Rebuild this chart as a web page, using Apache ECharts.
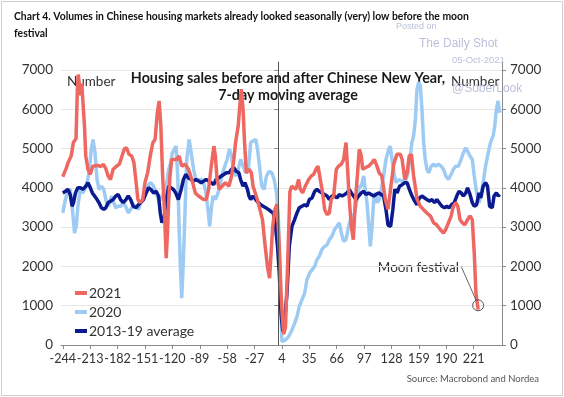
<!DOCTYPE html>
<html>
<head>
<meta charset="utf-8">
<script src="https://cdn.jsdelivr.net/npm/echarts@6/dist/echarts.min.js"></script>
<style>
  html, body { margin: 0; padding: 0; background: #fff; }
  #chart { width: 564px; height: 397px; }
</style>
</head>
<body>
<div id="chart"></div>
<script>
// days relative to Chinese New Year
const xTicks = [-244, -213, -182, -151, -120, -89, -58, -27, 4, 35, 66, 97, 128, 159, 190, 221];

const sales2021 = [
  [-244, 4280], [-240, 4500], [-238, 4640], [-234.5, 4810], [-232, 5150], [-229, 5250],
  [-227.5, 6500], [-226.5, 6880], [-225, 6600], [-224, 6350], [-222.5, 6650], [-221, 6700],
  [-219.5, 5600], [-218, 4810], [-215.5, 4470], [-213, 4340], [-210, 4550], [-207, 4560],
  [-204, 4570], [-201, 4540], [-198, 4600], [-195, 4470], [-192.7, 4300], [-190, 4210],
  [-187, 4470], [-183, 4550], [-180, 4600], [-177.5, 4770], [-174.5, 4980], [-172, 5020],
  [-169, 4850], [-166, 4810], [-163.5, 4640], [-161, 4130], [-159, 3700], [-156.5, 3620],
  [-153.5, 3700], [-151, 4130], [-148, 4380], [-145, 4810], [-142, 5150], [-139.5, 5230],
  [-137, 5910], [-135, 6210], [-133, 5570], [-131, 4300], [-129, 3450], [-127, 2210],
  [-125.5, 2850], [-124.6, 3450], [-122.7, 4300], [-120.8, 4720], [-119, 4770], [-115, 4720],
  [-112.4, 4810], [-109.4, 4550], [-105.6, 4600], [-101.7, 4470], [-98, 4210], [-94, 3870],
  [-90.3, 3790], [-84.6, 3700], [-81.6, 3700], [-79, 3960], [-76, 4550], [-73, 5060],
  [-71.3, 4810], [-69.4, 4210], [-66.8, 3960], [-63.7, 4040], [-60, 4130], [-56, 4040],
  [-53, 4300], [-50.4, 4720], [-48.5, 5150], [-45.5, 5570], [-44, 6000], [-42, 6510],
  [-40, 6000], [-38.3, 5150], [-36.3, 4380], [-33.3, 4470], [-30.6, 4380], [-28.7, 4040],
  [-26.5, 4040], [-23.8, 3700], [-21, 3450], [-18, 3190], [-15.4, 2600], [-12.4, 2000],
  [-10, 1700], [-6.5, 3000], [-4, 3450], [-1.5, 3580], [1, 2500], [3, 1300], [4.5, 700],
  [6, 280], [8, 450], [10.5, 2100], [13, 3900], [15, 4040], [17, 4040], [19.8, 3960],
  [22.9, 4210], [24.8, 3960], [27.4, 3870], [30.4, 4040], [34.2, 4210], [37.2, 4300],
  [39.8, 4340], [42.5, 4470], [44.8, 4550], [47.4, 4210], [50, 3870], [52.3, 3450],
  [55, 3320], [57.6, 3360], [59.8, 3700], [62.5, 3790], [65.5, 4470], [68.2, 4550],
  [71.2, 4600], [73.8, 4720], [76.5, 5150], [78.3, 4470], [80.2, 3700], [82.5, 3020],
  [84.8, 2680], [87, 3620], [89.3, 4300], [91.5, 4980], [93.8, 4810], [95.3, 4470],
  [98.3, 4510], [102, 4550], [106, 4640], [108.5, 4720], [111.5, 4550], [114, 4380],
  [117, 4300], [121, 3700], [124, 3450], [126, 3450], [130.5, 4600], [134, 4850],
  [138, 4850], [140, 4720], [143, 4210], [145.6, 4380], [148, 4810], [150.5, 4850],
  [153, 4300], [157, 3700], [160.6, 3530], [164, 3450], [168, 3360], [172, 3280],
  [175.6, 3110], [179, 3060], [183, 2940], [186.8, 2850], [189.4, 2940], [192.4, 3110],
  [195.4, 3280], [198, 3530], [200.7, 3620], [203, 3530], [205.5, 3190], [208, 3110],
  [211, 3060], [214, 3190], [216.8, 3280], [219.4, 3190], [221.6, 2340], [223.5, 1320],
  [226, 900]
];

const sales2020 = [
  [-244, 3360], [-241, 3700], [-238.3, 3910], [-235.6, 3960], [-233.4, 3530], [-230.7, 2850],
  [-228.8, 3020], [-226.9, 3530], [-224.2, 3960], [-221.2, 3870], [-217.4, 4040], [-214.3, 4380],
  [-211.7, 4980], [-209.8, 5230], [-207.5, 4890], [-205.2, 4210], [-203, 3960], [-200.3, 4040],
  [-197.6, 3960], [-195.3, 3700], [-192.7, 3530], [-190.8, 3620], [-188.9, 3790], [-186.2, 3620],
  [-184, 3490], [-181.3, 3530], [-178.6, 3530], [-175.6, 3620], [-172.9, 3530], [-169.9, 3360],
  [-167.2, 3450], [-164.2, 3530], [-161, 3530], [-158.4, 3450], [-155.8, 3620], [-152.7, 3700],
  [-149.7, 3870], [-147, 4080], [-144.4, 4130], [-141.3, 4040], [-138.3, 3870], [-135.6, 3700],
  [-133, 3700], [-130, 3870], [-127, 4040], [-124, 4470], [-122.3, 4600], [-120, 4890],
  [-117.7, 4980], [-115.8, 5060], [-113.9, 4300], [-112.4, 3020], [-110.9, 2000], [-109.4, 1190],
  [-107.5, 2170], [-105.6, 3450], [-103.7, 4720], [-101, 5230], [-98.7, 4890], [-96, 4470],
  [-93.4, 4210], [-90.3, 4210], [-87.3, 4210], [-84.6, 4130], [-82, 3870], [-79.7, 3450],
  [-77.8, 3020], [-76, 3450], [-74, 3790], [-71.3, 3700], [-68.3, 3870], [-65.6, 4130],
  [-63, 4380], [-60.7, 4550], [-58, 4720], [-55.4, 4980], [-53, 4810], [-50.4, 4380],
  [-47.8, 4300], [-45.5, 4470], [-42.8, 4720], [-40, 4550], [-37, 4380], [-34, 4470],
  [-31.4, 5150], [-28.7, 5190], [-25.7, 5230], [-23.8, 5020], [-21, 4470], [-18.9, 4040],
  [-16.2, 3960], [-13.5, 4300], [-10.5, 4420], [-7.5, 4380], [-4.8, 4210], [-2.1, 3870],
  [0, 3190], [2, 1500], [4, 85], [7.8, 130], [11.5, 210], [15.3, 380], [18.3, 550],
  [21, 720], [23.6, 980], [26.6, 1150], [29.7, 1320], [32.3, 1660], [35.3, 1830], [38, 1910],
  [41, 2000], [43.6, 2170], [46.3, 2260], [49.3, 2430], [52.3, 2510], [55, 2550], [57.6, 2680],
  [60.6, 2770], [63.6, 2940], [66.3, 3020], [68.9, 3110], [71.2, 2850], [73.8, 2640],
  [76.5, 2680], [78.7, 2940], [81.4, 3190], [84, 3280], [86.3, 3360], [89, 3700], [91.5, 4040],
  [93.8, 4040], [96.5, 4300], [98.3, 3960], [100.2, 3620], [102, 3110], [104, 2510], [106, 3020],
  [107.8, 3700], [109.7, 3870], [111.5, 3620], [114.2, 3700], [116.5, 3960], [119, 4300],
  [121.7, 4720], [124.8, 4980], [126.6, 5060], [128, 4810], [130.6, 4380], [133, 4130],
  [136, 4210], [140, 4170], [143.7, 4170], [146.7, 4380], [149.3, 4810], [151, 5150],
  [153, 5320], [155, 5740], [156.8, 6510], [158.7, 6680], [160.6, 6600], [162.4, 6000],
  [164.3, 5150], [166.2, 4720], [168, 4470], [170, 4380], [173, 4550], [175.6, 4600],
  [178, 4550], [181, 4600], [184, 4550], [186.8, 4470], [189.4, 4300], [192.4, 4210],
  [195.4, 4340], [198, 4470], [200.7, 4550], [203.7, 4550], [206.7, 4720], [209.3, 4890],
  [212, 5020], [214, 4980], [216.8, 4810], [219.4, 4720], [221.6, 4300], [224.3, 3870],
  [227, 3620], [229, 3790], [231.7, 4130], [234.4, 4550], [237.4, 4890], [240, 5150],
  [243, 5320], [244.8, 5570], [246.7, 6000], [248.5, 6210], [250.5, 5910]
];

const avg2013to19 = [
  [-244, 3870], [-241, 3910], [-238.3, 3960], [-235.6, 3830], [-233.4, 3530], [-231.8, 3620],
  [-229.6, 3870], [-227, 4000], [-224.2, 4000], [-221.2, 3960], [-218, 4040], [-215.5, 4130],
  [-212.8, 4000], [-210.5, 3870], [-208, 3790], [-205.2, 3700], [-203, 3620], [-200.3, 3490],
  [-197.6, 3450], [-195.3, 3490], [-192.7, 3620], [-190, 3660], [-187, 3700], [-184, 3790],
  [-181.3, 3830], [-178.6, 3700], [-175.6, 3620], [-172.5, 3700], [-169.9, 3790], [-167.2, 3700],
  [-164.2, 3530], [-161, 3490], [-158.4, 3570], [-155.8, 3620], [-152.7, 3700], [-149.7, 3870],
  [-147, 4000], [-144.4, 3960], [-141.3, 3870], [-138.3, 3910], [-135.6, 3790], [-133.7, 3360],
  [-131.8, 3110], [-129, 3280], [-127, 3700], [-124, 4040], [-122.7, 4040], [-118.9, 3960],
  [-116.2, 3870], [-113.2, 3700], [-110, 3960], [-107.5, 4210], [-104.8, 4340], [-101.7, 4250],
  [-98.7, 4210], [-96, 4170], [-93.4, 4210], [-90.3, 4170], [-87.3, 4130], [-84.6, 4170],
  [-82, 4210], [-79, 4170], [-76, 4130], [-73.2, 4080], [-70.6, 4210], [-67.5, 4250],
  [-64.5, 4300], [-61.8, 4340], [-59, 4380], [-56, 4380], [-53, 4470], [-50.4, 4510],
  [-47.8, 4420], [-44.7, 4380], [-42.8, 4210], [-40, 4040], [-37.9, 4130], [-35, 3960],
  [-33.3, 3790], [-31.4, 3700], [-28.7, 3790], [-25.7, 3700], [-22.7, 3620], [-20, 3570],
  [-17.3, 3530], [-14.3, 3490], [-11.3, 3450], [-8.6, 3400], [-6, 3360], [-3.7, 3110],
  [-1, 2510], [1, 1830], [3, 800], [5, 350], [7, 600], [9.7, 1320], [12.3, 2510],
  [15.3, 3020], [18.3, 3190], [21, 3360], [23.6, 3490], [26.6, 3530], [29.7, 3570],
  [32.3, 3530], [35, 3700], [38, 3740], [41, 3910], [43.6, 3960], [46.3, 3910], [49.3, 3870],
  [52.3, 3830], [55, 3790], [57.6, 3700], [60.6, 3790], [63.6, 3790], [66.3, 3740],
  [68.9, 3830], [72, 3790], [75, 3830], [77.6, 3870], [80.2, 3960], [82.5, 3870], [85, 3790],
  [87.8, 3700], [90.8, 3790], [93.8, 3870], [96.5, 3910], [99, 3830], [102, 3870], [105, 3830],
  [107.8, 3790], [110.4, 3830], [113.4, 3870], [116.5, 3830], [119, 3790], [121.7, 3450],
  [124, 3050], [127, 3020], [129.5, 3450], [131.7, 3960], [134.4, 3870], [137, 4040],
  [140, 4080], [143, 4130], [145.6, 4130], [148.2, 3960], [151.2, 3790], [154.2, 3660],
  [156.8, 3570], [159.5, 3740], [162.4, 3790], [165.5, 3740], [168, 3700], [170.7, 3660],
  [173.7, 3700], [176.7, 3620], [179.3, 3700], [182, 3620], [185, 3530], [188, 3490],
  [190.5, 3530], [193, 3490], [196, 3570], [199, 3620], [201.8, 3790], [204.4, 3910],
  [206.7, 3870], [209.3, 3790], [212, 3870], [214, 4000], [216.8, 3830], [219.4, 3620],
  [221.6, 3530], [224.3, 3570], [227, 3870], [229, 3740], [231.7, 4040], [234.4, 4130],
  [236.6, 4040], [239, 3530], [242, 3490], [244, 3790], [246.7, 3870], [248.6, 3790],
  [250.5, 3830]
];

const moonFestival = [226, 1010];
const moonLeader = [[207, 1990], [224.2, 1110]];

const chart = echarts.init(document.getElementById('chart'));

const axisGray = '#8a8a8a';
const txt = '#333';

const yAxisBase = {
  type: 'value',
  min: 0,
  max: 7200,
  interval: 1000,
  axisLine: { show: true, lineStyle: { color: axisGray } },
  axisTick: { show: true, length: 4, lineStyle: { color: axisGray } },
  axisLabel: {
    color: txt, fontFamily: 'Lato', fontSize: 13.5, margin: 8, showMaxLabel: false,
    formatter: v => String(v)
  }
};

chart.setOption({
  animation: false,
  grid: { left: 61, right: 62, top: 62, bottom: 52 },
  xAxis: {
    type: 'value',
    min: -246,
    max: 253,
    splitLine: { show: false },
    axisLine: { onZero: false, lineStyle: { color: axisGray } },
    axisTick: { show: true, length: 4, customValues: xTicks, lineStyle: { color: axisGray } },
    axisLabel: {
      customValues: xTicks, showMinLabel: true, showMaxLabel: true, hideOverlap: false,
      color: txt, fontFamily: 'Lato', fontSize: 12.6, margin: 7,
      formatter: v => String(v)
    }
  },
  yAxis: [
    Object.assign({}, yAxisBase, {
      position: 'left',
      splitLine: { show: true, showMaxLine: false, lineStyle: { color: '#e6e6e6' } }
    }),
    Object.assign({}, yAxisBase, {
      position: 'right',
      splitLine: { show: false }
    })
  ],
  legend: {
    orient: 'vertical',
    left: 75,
    top: 286,
    padding: 0,
    itemWidth: 12,
    itemHeight: 4,
    itemGap: 5,
    icon: 'rect',
    data: ['2021', '2020', '2013-19 average'],
    textStyle: { fontFamily: 'Lato', fontSize: 14, color: txt, padding: [0, 0, 0, -3] }
  },
  series: [
    {
      name: '2020',
      type: 'line',
      data: sales2020,
      showSymbol: false,
      color: '#9ecbf3',
      lineStyle: { width: 3.5, color: '#9ecbf3' }
    },
    {
      name: '2013-19 average',
      type: 'line',
      data: avg2013to19,
      showSymbol: false,
      color: '#0b1b8f',
      lineStyle: { width: 3.5, color: '#0b1b8f' },
      markLine: {
        silent: true,
        symbol: 'none',
        label: { show: false },
        lineStyle: { color: '#555', width: 1, type: 'solid' },
        data: [{ xAxis: 0 }]
      }
    },
    {
      name: '2021',
      type: 'line',
      data: sales2021,
      showSymbol: false,
      color: '#ee6760',
      lineStyle: { width: 3.5, color: '#ee6760' },
      markPoint: {
        silent: true,
        symbol: 'circle',
        symbolSize: 11,
        label: { show: false },
        itemStyle: { color: 'rgba(0,0,0,0)', borderColor: '#555', borderWidth: 1 },
        data: [{ coord: moonFestival }]
      },
      markLine: {
        silent: true,
        symbol: 'none',
        label: { show: false },
        lineStyle: { color: '#666', width: 1, type: 'solid' },
        data: [[{ coord: moonLeader[0] }, { coord: moonLeader[1] }]]
      }
    }
  ],
  graphic: [
    { type: 'rect', shape: { x: 1.5, y: 1.5, width: 561, height: 394 },
      style: { fill: 'none', stroke: '#cfcfcf', lineWidth: 1 }, silent: true },
    { type: 'text', left: 14, top: 8, silent: true,
      style: { text: 'Chart 4. Volumes in Chinese housing markets already looked seasonally (very) low before the moon\nfestival',
        font: 'bold 10.4px Lato', fill: '#111', lineHeight: 17 } },
    { type: 'text', x: 396, y: 27, silent: true, z: 100,
      style: { text: 'Posted on', font: '9px "Liberation Sans"', fill: '#bcc0da', verticalAlign: 'middle' } },
    { type: 'text', x: 419, y: 44, silent: true, z: 100,
      style: { text: 'The Daily Shot', font: '12px "Liberation Sans"', fill: '#bcc0da', verticalAlign: 'middle' } },
    { type: 'text', x: 452, y: 60, silent: true, z: 100,
      style: { text: '05-Oct-2021', font: '9.5px "Liberation Sans"', fill: '#bcc0da', verticalAlign: 'middle' } },
    { type: 'text', x: 452, y: 89, silent: true, z: 100,
      style: { text: '@SoberLook', font: '12px "Liberation Sans"', fill: '#bcc0da', verticalAlign: 'middle' } },
    { type: 'text', x: 67, y: 82, silent: true,
      style: { text: 'Number', font: '13.5px Lato', fill: txt, verticalAlign: 'middle' } },
    { type: 'text', x: 451, y: 82, silent: true,
      style: { text: 'Number', font: '13.5px Lato', fill: txt, verticalAlign: 'middle' } },
    { type: 'text', x: 288, y: 70, silent: true,
      style: { text: 'Housing sales before and after Chinese New Year,\n7-day moving average',
        font: 'bold 14.3px Lato', fill: '#1a1a1a', align: 'center', lineHeight: 17 } },
    { type: 'text', x: 459, y: 268, silent: true,
      style: { text: 'Moon festival', font: '13.5px Lato', fill: txt, align: 'right', verticalAlign: 'middle' } },
    { type: 'text', x: 539, y: 379, silent: true,
      style: { text: 'Source: Macrobond and Nordea', font: '9.5px Lato', fill: '#555', align: 'right', verticalAlign: 'middle' } }
  ]
});
</script>
</body>
</html>
